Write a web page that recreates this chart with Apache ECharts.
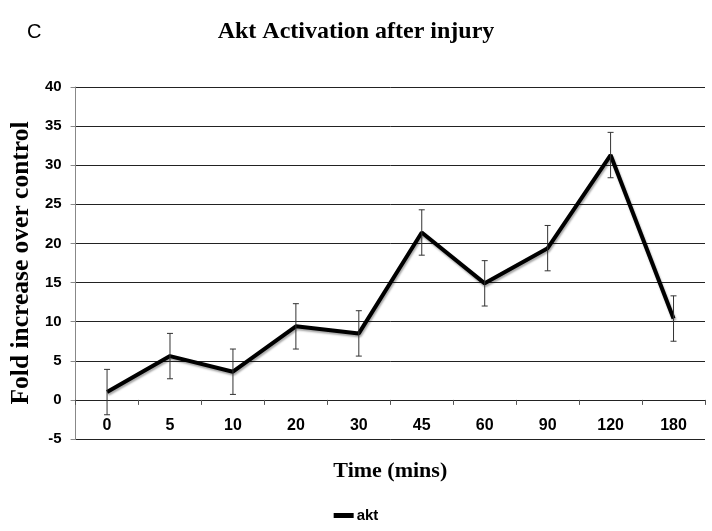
<!DOCTYPE html>
<html><head><meta charset="utf-8">
<script src="https://cdn.jsdelivr.net/npm/echarts@6/dist/echarts.min.js"></script>
<style>html,body{margin:0;padding:0;background:#fff}#c{width:712px;height:531px}</style>
</head><body><div id="c"></div>
<script>
const categories = ['0','5','10','20','30','45','60','90','120','180'];
const aktValues = [1.0, 5.6, 3.6, 9.4, 8.5, 21.4, 14.9, 19.4, 31.3, 10.4];
const aktErrors = [2.9, 2.9, 2.9, 2.9, 2.9, 2.9, 2.9, 2.9, 2.9, 2.9];
const yTicks = {min: -5, max: 40, interval: 5};

const sans = "'Liberation Sans', Arial, sans-serif";
const serif = "'Liberation Serif', 'Times New Roman', serif";
const chart = echarts.init(document.getElementById('c'));
const errData = categories.map((c, i) => [i, aktValues[i] - aktErrors[i], aktValues[i] + aktErrors[i]]);
chart.setOption({
  animation: false,
  title: [
    {text: 'Akt Activation after injury', left: 'center', top: 15,
     textStyle: {fontFamily: serif, fontWeight: 'bold', fontSize: 24, color: '#000'}},
    {text: 'C', left: 22, top: 17,
     textStyle: {fontFamily: sans, fontWeight: 'normal', fontSize: 20, color: '#000'}}
  ],
  legend: {
    bottom: 3, left: 'center', itemWidth: 20, itemHeight: 5, itemGap: 6,
    data: [{name: 'akt', icon: 'rect'}],
    textStyle: {fontFamily: sans, fontWeight: 'bold', fontSize: 15, color: '#000', padding: [0,0,0,-2]}
  },
  grid: {left: 72, right: 7, top: 87, bottom: 92},
  xAxis: {
    type: 'category', data: categories, boundaryGap: true, position: 'bottom', offset: -39.1,
    name: 'Time (mins)', nameLocation: 'middle', nameGap: 60,
    nameTextStyle: {fontFamily: serif, fontWeight: 'bold', fontSize: 22, color: '#000'},
    axisLine: {onZero: false, lineStyle: {color: '#222', width: 1}},
    axisTick: {show: true, length: 5, alignWithLabel: false, lineStyle: {color: '#555'}},
    axisLabel: {margin: 18, fontFamily: sans, fontWeight: 'bold', fontSize: 16, color: '#000'}
  },
  yAxis: {
    type: 'value', min: yTicks.min, max: yTicks.max, interval: yTicks.interval,
    name: 'Fold increase over control', nameLocation: 'middle', nameGap: 37, nameRotate: 90,
    nameTextStyle: {fontFamily: serif, fontWeight: 'bold', fontSize: 25.5, color: '#000'},
    axisLine: {show: true, lineStyle: {color: '#888', width: 1}},
    axisTick: {show: true, length: 5, lineStyle: {color: '#888'}},
    axisLabel: {margin: 14, fontFamily: sans, fontWeight: 'bold', fontSize: 15, color: '#000'},
    splitLine: {show: true, lineStyle: {color: '#222', width: 1}}
  },
  series: [
    {
      name: 'akt', type: 'line', data: aktValues, symbol: 'none', color: '#000',
      lineStyle: {color: '#000', width: 4, shadowColor: 'rgba(0,0,0,0.35)', shadowBlur: 2, shadowOffsetX: 1, shadowOffsetY: 2},
      z: 3
    },
    {
      name: 'err', type: 'custom', data: errData, z: 4,
      renderItem: function (params, api) {
        const x = api.value(0);
        const lo = api.coord([x, api.value(1)]);
        const hi = api.coord([x, api.value(2)]);
        const w = 3;
        const st = {stroke: '#333', lineWidth: 1};
        return {type: 'group', children: [
          {type: 'line', shape: {x1: hi[0], y1: hi[1], x2: lo[0], y2: lo[1]}, style: st},
          {type: 'line', shape: {x1: hi[0]-w, y1: hi[1], x2: hi[0]+w, y2: hi[1]}, style: st},
          {type: 'line', shape: {x1: lo[0]-w, y1: lo[1], x2: lo[0]+w, y2: lo[1]}, style: st}
        ]};
      }
    }
  ]
});
</script></body></html>
